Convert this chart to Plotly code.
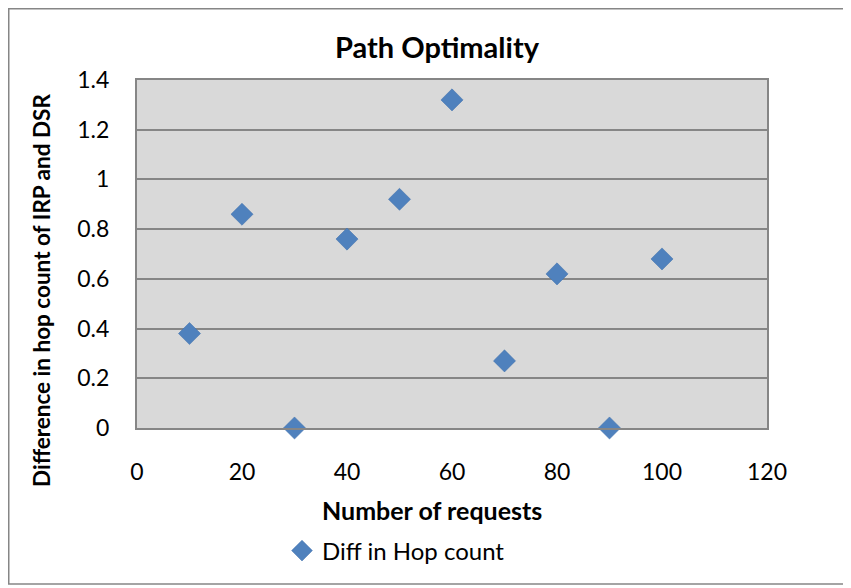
import plotly.graph_objects as go

requests = [10, 20, 30, 40, 50, 60, 70, 80, 90, 100]
diff_hop = [0.38, 0.86, 0.0, 0.76, 0.92, 1.32, 0.27, 0.62, 0.0, 0.68]
series_name = "Diff in Hop count"
title_text = "Path Optimality"
x_title = "Number of requests"
y_title = "Difference in hop count of IRP and DSR"

FONT = "Lato, 'Open Sans', sans-serif"
# page body has an 8px margin; figure coordinates are screen - 8
W, H = 843, 580
L, R, T, B = 129, 84, 72, 160
pw, ph = W - L - R, H - T - B


def px_x(p):
    return (p - L) / pw


def px_y(p):
    return (H - B - p) / ph


fig = go.Figure()
fig.add_trace(go.Scatter(
    x=requests, y=diff_hop, mode="markers", name=series_name,
    marker=dict(symbol="diamond", size=17, color="#4F81BD",
                line=dict(width=0.5, color="#3F6FAA")),
    cliponaxis=False,
))

fig.update_layout(
    width=W, height=H,
    margin=dict(l=L, r=R, t=T, b=B),
    paper_bgcolor="white",
    plot_bgcolor="#D9D9D9",
    font=dict(family=FONT, size=23, color="black"),
    showlegend=True,
    legend=dict(orientation="h", x=px_x(274), xanchor="left",
                y=px_y(543), yanchor="middle", font=dict(size=24),
                bgcolor="rgba(0,0,0,0)"),
    xaxis=dict(range=[0, 120], dtick=20, showgrid=False, zeroline=False,
               showline=True, linecolor="#868686", linewidth=2, mirror=True,
               ticks="", tickfont=dict(size=23), ticklabelstandoff=22),
    yaxis=dict(range=[0, 1.4], dtick=0.2, showgrid=True, gridcolor="#868686", gridwidth=2,
               zeroline=False, showline=True, linecolor="#868686", linewidth=2,
               mirror=True, ticks="outside", ticklen=21, tickcolor="rgba(0,0,0,0)",
               tickfont=dict(size=23), tickformat="~g"),
    annotations=[
        dict(text="<b>" + title_text + "</b>", xref="paper", yref="paper",
             x=px_x(429), y=px_y(39), xanchor="center", yanchor="middle",
             showarrow=False, font=dict(size=29)),
        dict(text="<b>" + x_title + "</b>", xref="paper", yref="paper",
             x=px_x(423.5), y=px_y(502), xanchor="center", yanchor="middle",
             showarrow=False, font=dict(size=25)),
        dict(text="<b>" + y_title + "</b>", xref="paper", yref="paper",
             x=px_x(33), y=px_y(283), xanchor="center", yanchor="middle",
             textangle=-90, showarrow=False, font=dict(size=22.5)),
    ],
    shapes=[dict(type="rect", xref="paper", yref="paper",
                 x0=px_x(0.75), x1=px_x(838), y0=px_y(0.75), y1=px_y(576),
                 line=dict(color="#868686", width=1.5), layer="below")],
)
fig.write_html("out.html")
